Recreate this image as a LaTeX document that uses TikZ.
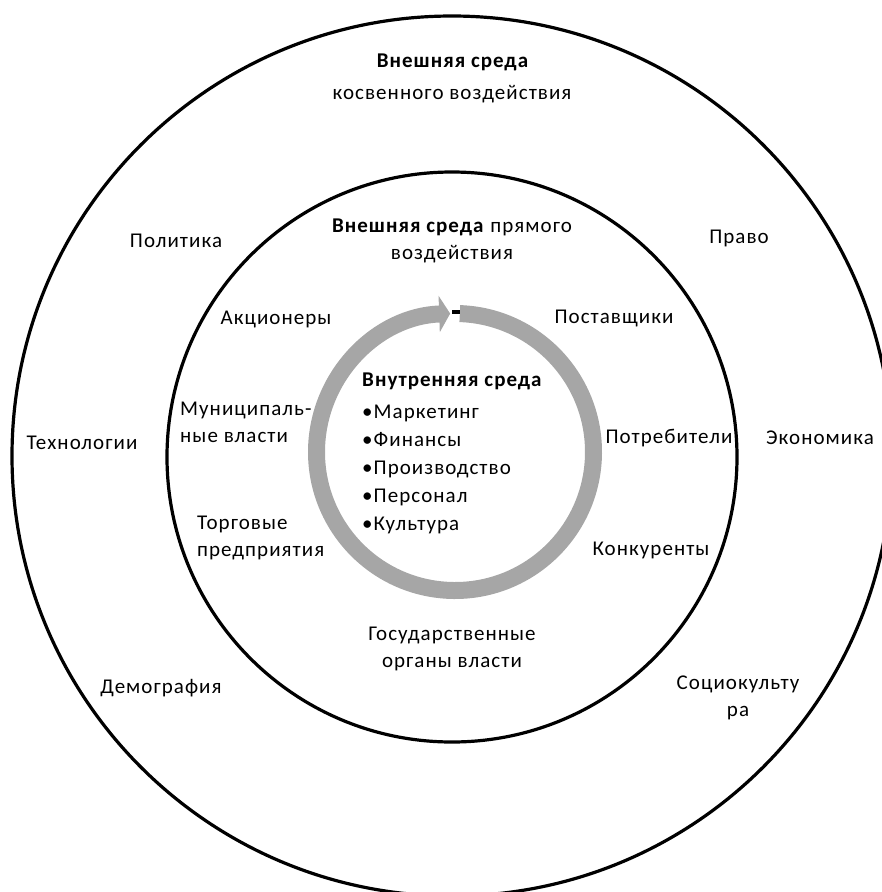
\documentclass[tikz,border=0pt]{standalone}
\usepackage{fontspec}
\setmainfont{Carlito}[LetterSpace=5]
\usetikzlibrary{arrows.meta}
\definecolor{ring_gray}{RGB}{166,166,166}
\definecolor{line_black}{RGB}{0,0,0}

\begin{document}
\begin{tikzpicture}[x=1pt,y=-1pt,font=\fontsize{21}{27}\selectfont]
    \tikzstyle{env}=[draw=line_black, line width=3.2pt]
    \tikzstyle{lbl}=[inner sep=0pt, anchor=base, text=black]
    \tikzstyle{blk}=[style=lbl, align=center]
    \tikzstyle{lft}=[style=lbl, align=left, anchor=base west]
    \tikzstyle{ring}=[draw=ring_gray, line width=17pt,
        -{Triangle[length=11pt,width=36pt]}]

    \useasboundingbox (0,0) rectangle (882,892);

    % circles
    \draw[env] (452,456) circle[radius=440];
    \draw[env] (452,457) circle[radius=285];
    \draw[ring] (455,452) ++(-88:138.5) arc[start angle=-88, end angle=268, radius=138.5];
    \fill[line_black] (452,310) rectangle (460,314);

    % outer ring
    \node[blk] (ind)  at (453,67)  {\textbf{Внешняя среда}};
    \node[blk] (ind2) at (452,99)  {косвенного воздействия};
    \node[lbl] (pol)  at (176,247) {Политика};
    \node[lbl] (law)  at (739,243) {Право};
    \node[lbl] (tech) at (82,449)  {Технологии};
    \node[lbl] (econ) at (820,444) {Экономика};
    \node[lbl] (dem)  at (161,693) {Демография};
    \node[blk] (soc)  at (738,716) {Социокульту\\ра};

    % middle ring (base = last line)
    \node[blk] (dir)  at (452,259) {\textbf{Внешняя среда} прямого\\воздействия};
    \node[lbl] (sh)   at (276,324) {Акционеры};
    \node[lbl] (sup)  at (614,323) {Поставщики};
    \node[lft] (mun)  at (180,442) {Муниципаль-\\ные власти};
    \node[lbl] (cons) at (669,443) {Потребители};
    \node[lft] (trd)  at (197,556) {Торговые\\предприятия};
    \node[lbl] (comp) at (651,555) {Конкуренты};
    \node[blk] (gov)  at (452,667) {Государственные\\органы власти};

    % inner
    \node[lft] (int)  at (362,386) {\textbf{Внутренняя среда}};
    \node[lft, font=\fontsize{21}{28}\selectfont] (lst) at (362,530)
      {•Маркетинг\\•Финансы\\•Производство\\•Персонал\\•Культура};
\end{tikzpicture}
\end{document}
